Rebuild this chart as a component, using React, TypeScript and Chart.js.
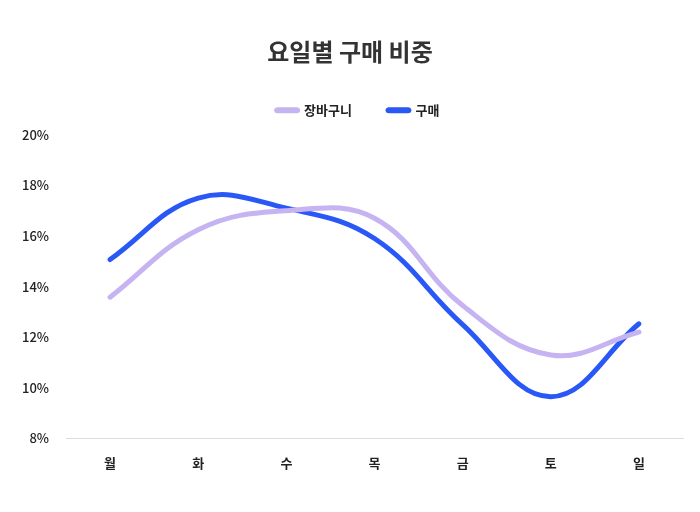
import { useEffect, useRef } from "react";
import { Chart, registerables } from "chart.js";

Chart.register(...registerables);

const days = ["월", "화", "수", "목", "금", "토", "일"];
const cartShare = [13.58, 16.25, 17.0, 16.7, 13.25, 11.3, 12.2];
const purchaseShare = [15.07, 17.5, 17.1, 15.9, 12.5, 9.65, 12.53];

const FONT = "'Noto Sans CJK KR', 'Noto Sans', sans-serif";

// a bit more room under the legend, and nudge it right like the original
const legendTweak = {
  id: "legendTweak",
  beforeInit(chart: any) {
    const fit = chart.legend.fit;
    chart.legend.fit = function () {
      fit.call(this);
      this.height += 8;
    };
  },
  afterLayout(chart: any) {
    chart.legend.left += 10;
    chart.legend.right += 10;
    chart.titleBlock.left += 2;
    chart.titleBlock.right += 2;
  },
};

export default function App() {
  const canvasRef = useRef<HTMLCanvasElement | null>(null);
  const chartRef = useRef<Chart | null>(null);

  useEffect(() => {
    if (!canvasRef.current) return;
    const ctx = canvasRef.current.getContext("2d");
    if (!ctx) return;

    chartRef.current = new Chart(ctx, {
      type: "line",
      data: {
        labels: days,
        datasets: [
          {
            label: "장바구니",
            data: cartShare,
            borderColor: "#c5b3f2",
            backgroundColor: "#c5b3f2",
            borderWidth: 5,
            pointRadius: 0,
            tension: 0.4,
            borderCapStyle: "round",
          },
          {
            label: "구매",
            data: purchaseShare,
            borderColor: "#2a58f6",
            backgroundColor: "#2a58f6",
            borderWidth: 5,
            pointRadius: 0,
            tension: 0.4,
            borderCapStyle: "round",
          },
        ],
      },
      plugins: [legendTweak],
      options: {
        responsive: false,
        animation: false,
        layout: { padding: { top: 37, left: 13, right: 17, bottom: 32 } },
        plugins: {
          title: {
            display: true,
            text: "요일별 구매 비중",
            color: "#333333",
            font: { family: FONT, size: 24, weight: "bold" },
            padding: { top: 0, bottom: 2 },
          },
          legend: {
            position: "top",
            labels: {
              color: "#222222",
              boxWidth: 21,
              boxHeight: 1,
              useBorderRadius: true,
              borderRadius: 1,
              padding: 36,
              font: { family: FONT, size: 13, weight: "bold" },
            },
          },
          tooltip: { enabled: false },
        },
        scales: {
          x: {
            offset: true,
            grid: { display: false },
            border: { display: true, color: "#dddddd", width: 1 },
            ticks: {
              color: "#222222",
              padding: 9,
              font: { family: FONT, size: 13, weight: "bold" },
            },
          },
          y: {
            min: 8,
            max: 20,
            grid: { display: false },
            border: { display: false },
            ticks: {
              stepSize: 2,
              color: "#222222",
              padding: 9,
              font: { family: FONT, size: 13, weight: "500" },
              callback: (v) => `${v}%`,
            },
          },
        },
      },
    });

    return () => {
      chartRef.current?.destroy();
      chartRef.current = null;
    };
  }, []);

  return (
    <div
      style={{
        position: "absolute",
        left: 0,
        top: 0,
        width: "700px",
        height: "512px",
        background: "#ffffff",
      }}
    >
      <canvas ref={canvasRef} width={700} height={512} />
    </div>
  );
}
